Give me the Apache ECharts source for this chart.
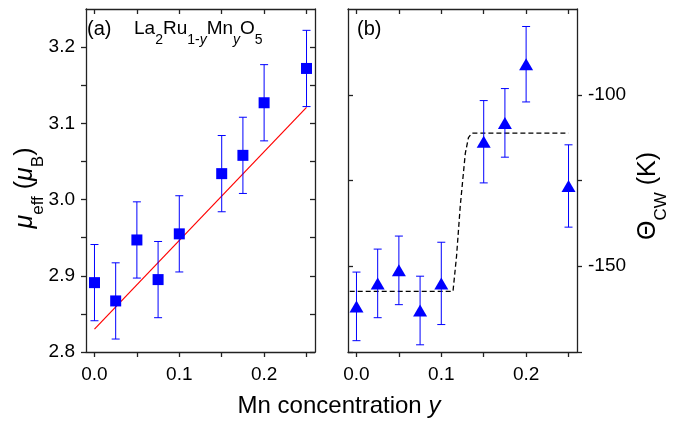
<!DOCTYPE html>
<html>
<head>
<meta charset="utf-8">
<script src="https://cdn.jsdelivr.net/npm/echarts@6/dist/echarts.min.js"></script>
<style>
  html, body { margin: 0; padding: 0; background: #fff; }
  #chart { width: 682px; height: 426px; }
</style>
</head>
<body>
<div id="chart"></div>
<script>
// Mn concentration y (shared by both panels)
const conc = [0, 0.025, 0.05, 0.075, 0.1, 0.15, 0.175, 0.2, 0.25];
// (a) effective moment, mu_B
const muEff = [2.891, 2.867, 2.947, 2.895, 2.955, 3.034, 3.058, 3.127, 3.172];
const muErr = [0.05, 0.05, 0.05, 0.05, 0.05, 0.05, 0.05, 0.05, 0.05];
// linear fit
const fitX = [0, 0.25];
const fitY = [2.83, 3.121];
// (b) Curie-Weiss temperature, K
const thetaCW = [-161.7, -155.0, -151.2, -162.9, -155.0, -113.7, -108.2, -91.1, -126.6];
const thetaErr = [10, 10, 10, 10, 12, 12, 10, 11, 12];
// dashed step guide
const stepX = [-0.008, 0.1138, 0.118, 0.1224, 0.1283, 0.132, 0.136, 0.25];
const stepY = [-157.3, -157.3, -147, -132.3, -117.1, -112.5, -111.2, -111.2];
// ticks
const xTicks = [0, 0.05, 0.1, 0.15, 0.2, 0.25];
const xLabels = [0, 0.1, 0.2];
const muTicks = [2.8, 2.85, 2.9, 2.95, 3.0, 3.05, 3.1, 3.15, 3.2];
const muLabels = [2.8, 2.9, 3.0, 3.1, 3.2];
const thTicks = [-175, -150, -125, -100];
const thLabels = [-150, -100];

const FONT = '"Liberation Sans", Arial, sans-serif';
const AX = '#222';

function xAx(grid, pos) {
  const bottom = pos === 'bottom';
  return {
    type: 'value', gridIndex: grid, position: pos, min: -0.01, max: 0.26,
    axisLine: { show: true, onZero: false, lineStyle: { color: AX, width: 1.3 } },
    splitLine: { show: false },
    axisTick: { show: true, inside: !bottom, length: 5, customValues: xTicks, lineStyle: { color: AX, width: 1.3 } },
    axisLabel: { show: bottom, customValues: xLabels, formatter: v => v.toFixed(1),
      fontSize: 19, color: '#000', fontFamily: FONT, margin: 13 }
  };
}

function yAx(grid, pos, min, max, ticks, labels, showLabel, inside, fmt) {
  return {
    type: 'value', gridIndex: grid, position: pos, min: min, max: max,
    axisLine: { show: true, onZero: false, lineStyle: { color: AX, width: 1.3 } },
    splitLine: { show: false },
    axisTick: { show: true, inside: inside, length: 5, customValues: ticks, lineStyle: { color: AX, width: 1.3 } },
    axisLabel: { show: showLabel, customValues: labels, formatter: fmt,
      fontSize: 19, color: '#000', fontFamily: FONT, margin: 11 }
  };
}

function errBars(params, api) {
  const x = api.value(0), y = api.value(1), e = api.value(2);
  const top = api.coord([x, y + e]);
  const bot = api.coord([x, y - e]);
  const w = 4;
  const st = { stroke: '#0000ff', lineWidth: 1 };
  return {
    type: 'group',
    children: [
      { type: 'line', shape: { x1: top[0], y1: top[1], x2: bot[0], y2: bot[1] }, style: st },
      { type: 'line', shape: { x1: top[0] - w, y1: top[1], x2: top[0] + w, y2: top[1] }, style: st },
      { type: 'line', shape: { x1: bot[0] - w, y1: bot[1], x2: bot[0] + w, y2: bot[1] }, style: st }
    ]
  };
}

const chart = echarts.init(document.getElementById('chart'));
chart.setOption({
  animation: false,
  backgroundColor: '#fff',
  grid: [
    { left: 86, top: 9, width: 229, height: 343 },
    { left: 348, top: 9, width: 229, height: 343 }
  ],
  xAxis: [xAx(0, 'bottom'), xAx(0, 'top'), xAx(1, 'bottom'), xAx(1, 'top')],
  yAxis: [
    yAx(0, 'left', 2.8, 3.25, muTicks, muLabels, true, false, v => v.toFixed(1)),
    yAx(0, 'right', 2.8, 3.25, muTicks, muLabels, false, true, v => v.toFixed(1)),
    yAx(1, 'left', -175, -75, thTicks, thLabels, false, true, v => String(v)),
    yAx(1, 'right', -175, -75, thTicks, thLabels, true, false, v => String(v))
  ],
  series: [
    {
      type: 'line', xAxisIndex: 0, yAxisIndex: 0, z: 1,
      data: fitX.map((x, i) => [x, fitY[i]]),
      symbol: 'none', lineStyle: { color: '#ff0000', width: 1.2 }
    },
    {
      type: 'custom', xAxisIndex: 0, yAxisIndex: 0, z: 2,
      renderItem: errBars, encode: { x: 0, y: 1 },
      data: conc.map((x, i) => [x, muEff[i], muErr[i]])
    },
    {
      type: 'scatter', xAxisIndex: 0, yAxisIndex: 0, z: 3,
      symbol: 'rect', symbolSize: 11, itemStyle: { color: '#0000ff', opacity: 1 },
      data: conc.map((x, i) => [x, muEff[i]])
    },
    {
      type: 'line', xAxisIndex: 2, yAxisIndex: 3, z: 1,
      data: stepX.map((x, i) => [x, stepY[i]]),
      symbol: 'none', lineStyle: { color: '#000', width: 1.3, type: [5, 3] }
    },
    {
      type: 'custom', xAxisIndex: 2, yAxisIndex: 3, z: 2,
      renderItem: errBars, encode: { x: 0, y: 1 },
      data: conc.map((x, i) => [x, thetaCW[i], thetaErr[i]])
    },
    {
      type: 'scatter', xAxisIndex: 2, yAxisIndex: 3, z: 3,
      symbol: 'triangle', symbolSize: [14, 12], itemStyle: { color: '#0000ff', opacity: 1 },
      data: conc.map((x, i) => [x, thetaCW[i]])
    }
  ],
  graphic: [
    {
      type: 'text', x: 25, y: 188, rotation: Math.PI / 2,
      style: {
        text: '{m|μ}{s|eff}{n| (}{m|μ}{s|B}{n|)}',
        align: 'center', verticalAlign: 'middle', fill: '#000',
        rich: {
          m: { fontSize: 25, fontStyle: 'italic', fontFamily: FONT, lineHeight: 44, color: '#000' },
          n: { fontSize: 25, fontFamily: FONT, lineHeight: 44, color: '#000' },
          s: { fontSize: 17, fontFamily: FONT, lineHeight: 17, verticalAlign: 'bottom', color: '#000' }
        }
      }
    },
    {
      type: 'text', x: 648, y: 196, rotation: Math.PI / 2,
      style: {
        text: '{n|Θ}{s|CW}{n| (K)}',
        align: 'center', verticalAlign: 'middle', fill: '#000',
        rich: {
          n: { fontSize: 25, fontFamily: FONT, lineHeight: 44, color: '#000' },
          s: { fontSize: 17, fontFamily: FONT, lineHeight: 17, verticalAlign: 'bottom', color: '#000' }
        }
      }
    },
    {
      type: 'text', x: 339, y: 406,
      style: {
        text: '{n|Mn concentration }{i|y}',
        align: 'center', verticalAlign: 'middle', fill: '#000',
        rich: {
          n: { fontSize: 24, fontFamily: FONT, color: '#000' },
          i: { fontSize: 24, fontFamily: FONT, fontStyle: 'italic', color: '#000' }
        }
      }
    },
    {
      type: 'text', x: 87, y: 29,
      style: { text: '(a)', fontSize: 20, fontFamily: FONT, fill: '#000', align: 'left', verticalAlign: 'middle' }
    },
    {
      type: 'text', x: 357, y: 29,
      style: { text: '(b)', fontSize: 20, fontFamily: FONT, fill: '#000', align: 'left', verticalAlign: 'middle' }
    },
    {
      type: 'text', x: 134, y: 29,
      style: {
        text: '{n|La}{s|2}{n|Ru}{s|1-}{si|y}{n|Mn}{si|y}{n|O}{s|5}',
        align: 'left', verticalAlign: 'middle', fill: '#000',
        rich: {
          n: { fontSize: 19, fontFamily: FONT, lineHeight: 36, color: '#000' },
          s: { fontSize: 14, fontFamily: FONT, lineHeight: 14, verticalAlign: 'bottom', color: '#000' },
          si: { fontSize: 14, fontFamily: FONT, fontStyle: 'italic', lineHeight: 14, verticalAlign: 'bottom', color: '#000' }
        }
      }
    }
  ]
});
</script>
</body>
</html>
